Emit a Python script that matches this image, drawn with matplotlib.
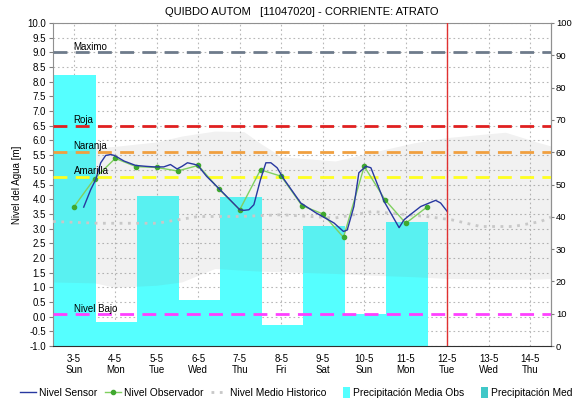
import numpy as np
import matplotlib
matplotlib.use("Agg")
from matplotlib import pyplot as plt
from matplotlib.patches import Patch, Rectangle
from matplotlib.lines import Line2D
from matplotlib.legend_handler import HandlerPatch

plt.rcParams['font.family'] = ['Liberation Sans', 'DejaVu Sans']

# eje x: dias desde 3-5 (0 = 3-5)
day_labels = ["3-5\nSun", "4-5\nMon", "5-5\nTue", "6-5\nWed", "7-5\nThu", "8-5\nFri",
              "9-5\nSat", "10-5\nSun", "11-5\nMon", "12-5\nTue", "13-5\nWed", "14-5\nThu"]

# precipitacion media obs [mm] por dia
precip_days = [0, 1, 2, 3, 4, 5, 6, 7, 8]
precip_mm = [84.0, 7.3, 46.4, 14.2, 46.0, 6.6, 37.0, 10.0, 38.3]

# nivel sensor [m]
sensor_t = [0.24, 0.41, 0.53, 0.65, 0.77, 0.89, 0.98, 1.21, 1.49, 1.73, 1.93, 2.17, 2.33,
            2.49, 2.61, 2.74, 2.90, 2.99, 3.20, 3.50, 4.00, 4.10, 4.22, 4.34, 4.50, 4.63,
            4.75, 4.90, 5.07, 5.47, 5.83, 6.27, 6.50, 6.59, 6.75, 6.87, 7.04, 7.16, 7.48,
            7.84, 7.96, 8.08, 8.36, 8.72, 8.84, 9.00]
sensor_h = [3.73, 4.33, 4.67, 5.24, 5.49, 5.52, 5.49, 5.30, 5.15, 5.12, 5.10, 5.10, 5.18,
            5.03, 5.12, 5.24, 5.19, 5.15, 4.78, 4.36, 3.64, 3.62, 3.64, 3.81, 4.67, 5.24,
            5.24, 5.07, 4.67, 3.87, 3.54, 3.19, 2.90, 2.95, 3.75, 4.90, 5.12, 5.07, 3.92,
            3.03, 3.30, 3.44, 3.75, 3.96, 3.87, 3.58]

# nivel observador [m], cada 12 h
obs_t = [0, 0.5, 1, 1.5, 2, 2.5, 3, 3.5, 4, 4.5, 5, 5.5, 6, 6.5, 7, 7.5, 8, 8.5]
obs_h = [3.73, 4.70, 5.39, 5.11, 5.08, 4.96, 5.15, 4.34, 3.64, 5.00, 4.78, 3.78,
         3.50, 2.70, 5.12, 3.98, 3.18, 3.72]

# nivel medio historico [m]
hist_t = [-0.5, 0.6, 2.0, 3.0, 4.0, 5.0, 6.3, 7.2, 8.5, 9.1, 9.8, 10.6, 11.25, 11.5]
hist_h = [3.24, 3.18, 3.18, 3.41, 3.41, 3.47, 3.36, 3.58, 3.41, 3.30, 3.07, 3.07, 3.24, 3.39]

# banda historica (max / min)
band_t = [-0.5, 0.5, 1.0, 2.0, 2.6, 3.4, 4.1, 4.5, 5.0, 6.3, 7.2, 8.2, 9.0, 10.4, 11.2, 11.5]
band_hi = [5.6, 5.75, 5.8, 5.95, 6.15, 6.32, 6.3, 5.9, 5.45, 5.3, 5.6, 5.92, 6.1, 6.28, 5.93, 5.81]
band_lo = [1.18, 1.15, 1.0, 1.07, 1.18, 1.64, 1.58, 1.55, 1.53, 1.47, 1.41, 1.36, 1.3, 1.27, 1.28, 1.3]

# umbrales [m]
thr_names = ["Maximo", "Roja", "Naranja", "Amarilla", "Nivel Bajo"]
thr_levels = [9.0, 6.5, 5.62, 4.77, 0.08]
thr_colors = ["#6E7B8B", "#E02020", "#F0A040", "#FFFF20", "#FF40FF"]


def m_to_mm(v):
    return (np.asarray(v) + 1.0) * 100.0 / 11.0


def mm_to_m(v):
    return np.asarray(v) * 11.0 / 100.0 - 1.0


def narrow_patch(legend, orig_handle, xdescent, ydescent, width, height, fontsize):
    # cuadrito angosto al final del espacio del simbolo, como en el original
    w = 5.0
    return Rectangle((width - w - xdescent, -ydescent - height * 0.25), w, height * 1.5)


fig = plt.figure(figsize=(5.72, 4.0), dpi=100)
ax = fig.add_axes([53/572, 54/400, 498/572, 323/400])
ax.set_xlim(-0.5, 11.5)
ax.set_ylim(-1.0, 10.0)
ax.set_axisbelow(True)
ax.grid(True, color="#B8B8B8", linestyle=(0, (1.5, 2.5)), linewidth=0.8)

# barras de precipitacion (escala derecha)
ax.bar(np.array(precip_days) + 0.03, mm_to_m(precip_mm) + 1.0, bottom=-1.0, width=1.0,
       color="#55FFFF", linewidth=0, zorder=1)

# banda historica
ax.fill_between(band_t, band_lo, band_hi, color="#808080", alpha=0.11, linewidth=0, zorder=2)
ax.plot(hist_t, hist_h, color="#C8C8C8", linestyle=(0, (1, 2)), linewidth=2.0, zorder=3)

for name, lev, col in zip(thr_names, thr_levels, thr_colors):
    ax.axhline(lev, color=col, linestyle=(0, (5, 3)), linewidth=2.0, zorder=4)
    ax.text(0.0, lev + 0.02, name, fontsize=7, ha="left", va="bottom", zorder=6)

ax.plot(obs_t, obs_h, color="#80D060", linewidth=1.0, marker="o", markersize=3,
        markerfacecolor="#40A830", markeredgecolor="#40A830", zorder=5)
ax.plot(sensor_t, sensor_h, color="#2838A0", linewidth=1.0, zorder=5)

ax.axvline(9.0, color="#E03030", linewidth=1.0, zorder=6)

ax.set_xticks(range(len(day_labels)))
ax.set_xticklabels(day_labels, fontsize=7, linespacing=1.1)
ax.tick_params(axis="x", length=0, pad=6)
ax.set_yticks(np.arange(-1.0, 10.01, 0.5))
ax.set_yticklabels(["%.1f" % v for v in np.arange(-1.0, 10.01, 0.5)], fontsize=7)
ax.tick_params(axis="y", length=3, color="#808080", pad=2)
ax.set_ylabel("Nivel del Agua [m]", fontsize=7, labelpad=4)

for s in ["left", "top", "right"]:
    ax.spines[s].set_color("#909090")
    ax.spines[s].set_linewidth(0.8)
ax.spines["bottom"].set_color("#303030")
ax.spines["bottom"].set_linestyle((0, (1, 1)))

sec = ax.secondary_yaxis("right", functions=(m_to_mm, mm_to_m))
sec.set_yticks(np.arange(0, 101, 10))
sec.set_yticklabels([str(v) for v in range(0, 101, 10)], fontsize=6.8)
sec.tick_params(length=2.5, color="#808080", pad=1)
sec.spines["right"].set_color("#909090")

ax.set_title("QUIBDO AUTOM   [11047020] - CORRIENTE: ATRATO", fontsize=8, pad=6)

handles = [
    Line2D([], [], color="#2838A0", linewidth=1.0),
    Line2D([], [], color="#80D060", linewidth=1.0, marker="o", markersize=3,
           markerfacecolor="#40A830", markeredgecolor="#40A830"),
    Line2D([], [], color="#C8C8C8", linestyle=(0, (1, 2)), linewidth=2.0),
    Patch(facecolor="#55FFFF", edgecolor="none"),
    Patch(facecolor="#40C8C8", edgecolor="none"),
]
labels = ["Nivel Sensor", "Nivel Observador", "Nivel Medio Historico",
          "Precipitación Media Obs", "Precipitación Media Prevista"]
fig.legend(handles, labels, loc="center left", bbox_to_anchor=(0.028, 0.018), ncol=5,
           frameon=False, fontsize=7.4, handlelength=1.55, handletextpad=0.3,
           columnspacing=0.75, borderaxespad=0,
           handler_map={Patch: HandlerPatch(patch_func=narrow_patch)})

fig.savefig("out.png", dpi=100)
